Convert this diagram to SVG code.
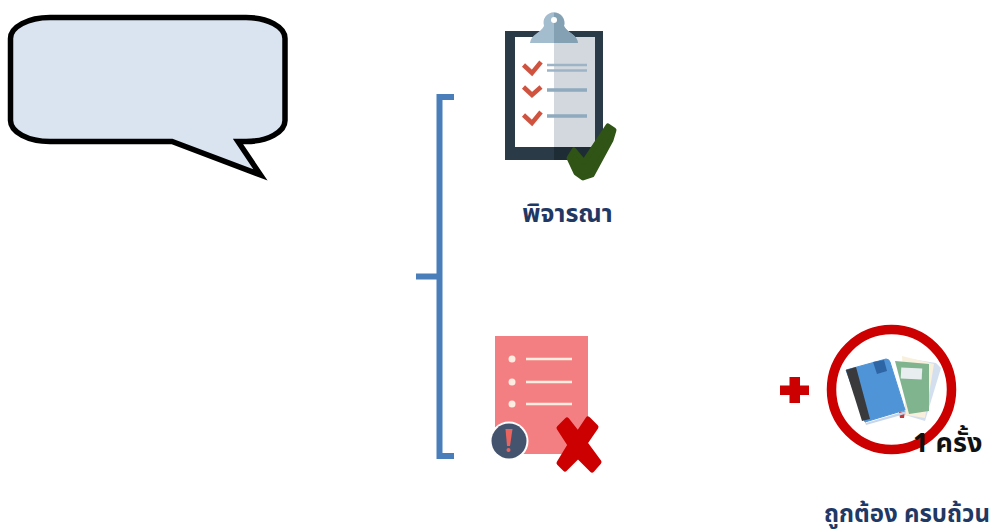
<svg xmlns="http://www.w3.org/2000/svg" width="994" height="532" viewBox="0 0 994 532">
<style>
.lbl{font-family:"Noto Sans Thai","Noto Sans","Liberation Sans",sans-serif;font-weight:700;fill:#1F3864}
.blk{font-family:"Noto Sans Thai","Noto Sans","Liberation Sans",sans-serif;font-weight:700;fill:#111;font-size:27px}
.chk{fill:none;stroke:#D0533F;stroke-width:4.5}
.ln{stroke:#8FA9BD;stroke-width:3.5}
.wl{stroke:#FDEDE0;stroke-width:2.5}
</style>
<rect width="994" height="532" fill="#fff"/>
<g id="bubble">
<path d="M50 17.500H246A39 21 0 0 1 285 38.500V120.500A39 21 0 0 1 246 141.500H238L260.500 175L172 141.500H50A39.500 21 0 0 1 10.500 120.500V38.500A39.500 21 0 0 1 50 17.500Z" fill="#DAE4F1" stroke="#000" stroke-width="5.500"/>
</g>
<g id="connectors">
<path d="M454 97H439.500V456H454M416 276.500H437" fill="none" stroke="#4A7EBB" stroke-width="6"/>
</g>
<g id="node-consider">
<rect x="505" y="31" width="98" height="129" fill="#2A3B47"/>
<rect x="515" y="37" width="80" height="110" fill="#fff"/>
<rect x="554" y="37" width="41" height="110" fill="#D3D8DE"/>
<rect x="554" y="147" width="49" height="13" fill="#1E2C36"/>
<path d="M530 43C531 34 541 33 544 26A10.500 10.500 0 1 1 564 26C567 33 577 34 578 43Z" fill="#A3BCCE"/>
<path d="M554 43V12.700A10.500 10.500 0 0 1 564 26C567 33 577 34 578 43Z" fill="#84A0B3"/>
<circle cx="554" cy="20" r="3" fill="#fff"/>
<path class="chk" d="M523.500 65L532 73L541 62M523.500 87L532 95L541 87M523.500 115L532 123L541 112"/>
<path d="M547 65H587M547 70.500H587" stroke="#9DB4C6" stroke-width="2.500"/>
<path class="ln" d="M547 90H587M547 116H587"/>
<path d="M569 158L574 150L584 162L608 126L614 130L611 140L592 175L583 178L576 173Z" fill="#2F5415" stroke="#2F5415" stroke-width="5" stroke-linejoin="round"/>
<text class="lbl" x="567.500" y="222" text-anchor="middle" font-size="25">พิจารณา</text>
</g>
<g id="node-reject">
<rect x="495" y="336" width="93" height="118" fill="#F47F82"/>
<circle cx="512" cy="359" r="3.500" fill="#FDEDE0"/>
<circle cx="512" cy="382" r="3.500" fill="#FDEDE0"/>
<circle cx="512" cy="404" r="3.500" fill="#FDEDE0"/>
<path class="wl" d="M526 359H572M526 382H572M526 404H572"/>
<circle cx="509" cy="441" r="19.500" fill="#fff"/>
<circle cx="509" cy="441" r="17.500" fill="#44546F"/>
<path d="M505.500 429H512.500L510 446H507Z" fill="#E9645F"/>
<circle cx="508.500" cy="450" r="2" fill="#E9645F"/>
<path d="M559 428L567 420L578 434L588 419L596 427L585 443L599 462L592 470L578 456L565 469L559 463L570 445Z" fill="#CC0000" stroke="#CC0000" stroke-width="5" stroke-linejoin="round"/>
</g>
<g id="node-complete">
<path d="M780 385.500H789.500V377H800V385.500H809V395H800V403H789.500V395H780Z" fill="#CC0000"/>
<path d="M905 358L936 363L941 368L925 421L905 415Z" fill="#D3DFEE"/>
<path d="M902 356L934 364L925 418L906 415Z" fill="#F8F0DC"/>
<path d="M895 361L929 364V411L909 414Z" fill="#7FB48F"/>
<rect x="901" y="368" width="21" height="11" fill="#E8EEF0" transform="rotate(3 911 373)"/>
<path d="M899 412L905 411L904 418H900Z" fill="#C0393B"/>
<path d="M848 373L866 423L906 411L905 414L866 425Z" fill="#C5D6EA"/>
<path d="M846 370L886 359Q889 359 890 362L905 410L865 422Z" fill="#4F94D6" stroke="#4F94D6" stroke-width="1" stroke-linejoin="round"/>
<path d="M846 370L856 367L870 419L862 421Z" fill="#3A3A3C"/>
<path d="M873 362L884 360L887 371L877 374Z" fill="#2E65A5"/>
<circle cx="891.500" cy="389.500" r="60" fill="none" stroke="#CC0000" stroke-width="9.500"/>
<text class="blk" x="913" y="452">1 ครั้ง</text>
<text class="lbl" x="907" y="522" text-anchor="middle" font-size="24">ถูกต้อง ครบถ้วน</text>
</g>
</svg>
